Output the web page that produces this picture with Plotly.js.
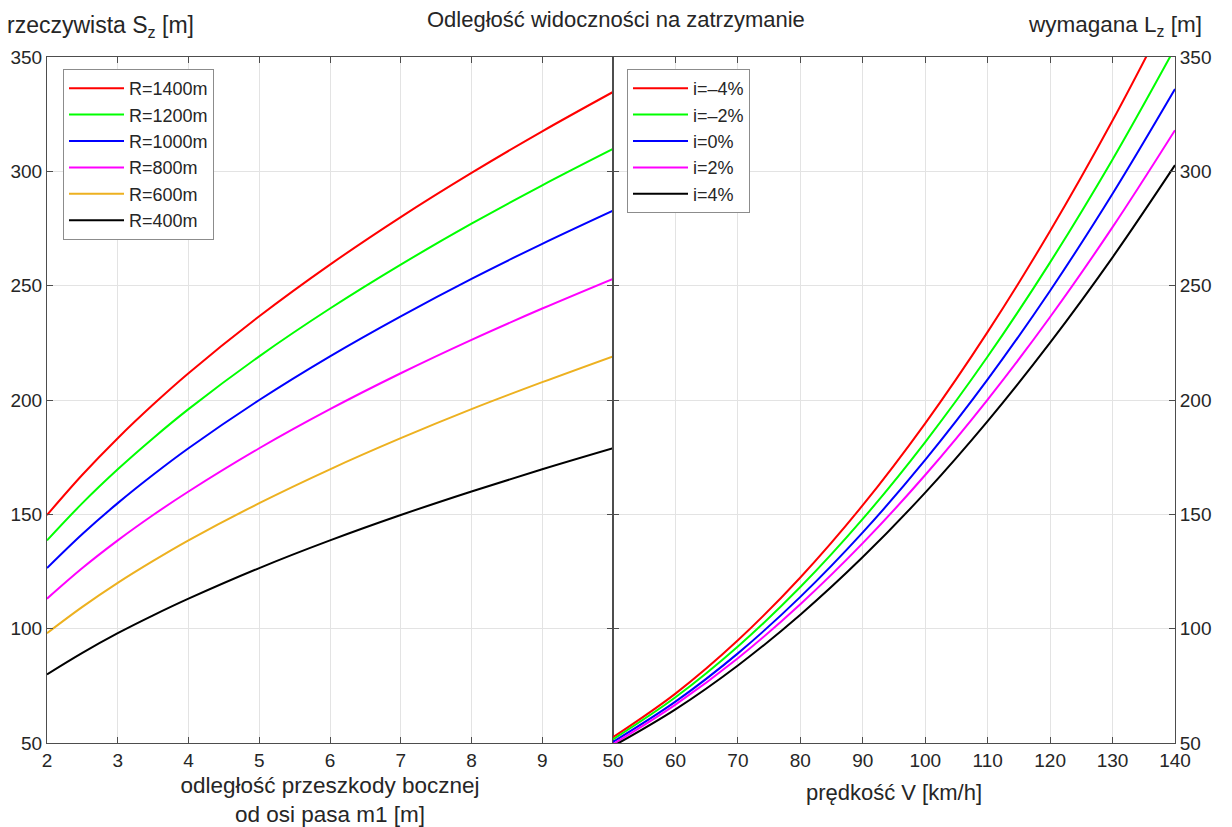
<!DOCTYPE html>
<html>
<head>
<meta charset="utf-8">
<script src="https://cdn.plot.ly/plotly-3.0.1.min.js"></script>
<style>html,body{margin:0;padding:0;background:#fff;}#chart{width:1232px;height:827px;}</style>
</head>
<body>
<div id="chart"></div>
<script>
// Left panel: lateral obstacle distance m1 [m]
const m1 = [2, 2.5, 3, 3.5, 4, 5, 6, 7, 8, 9, 10];
const R1400 = [149.7, 167.3, 183.3, 198.0, 211.7, 236.6, 259.2, 280.0, 299.3, 317.5, 334.7];
const R1200 = [138.6, 154.9, 169.7, 183.3, 196.0, 219.1, 240.0, 259.2, 277.1, 293.9, 309.8];
const R1000 = [126.5, 141.4, 154.9, 167.3, 178.9, 200.0, 219.1, 236.6, 253.0, 268.3, 282.8];
const R800  = [113.1, 126.5, 138.6, 149.7, 160.0, 178.9, 196.0, 211.7, 226.3, 240.0, 253.0];
const R600  = [98.0, 109.5, 120.0, 129.6, 138.6, 154.9, 169.7, 183.3, 196.0, 207.8, 219.1];
const R400  = [80.0, 89.4, 98.0, 105.8, 113.1, 126.5, 138.6, 149.7, 160.0, 169.7, 178.9];
const leftNames = ['R=1400m', 'R=1200m', 'R=1000m', 'R=800m', 'R=600m', 'R=400m'];

// Right panel: speed V [km/h]
const V = [50, 60, 70, 80, 90, 100, 110, 120, 130, 140];
const iM4 = [52.5, 71.6, 94.9, 122.4, 154.0, 189.8, 229.8, 273.9, 322.2, 374.6];
const iM2 = [51.6, 70.0, 92.2, 118.2, 148.0, 181.6, 219.0, 260.2, 305.2, 354.0];
const i0  = [50.5, 68.1, 89.2, 113.9, 142.1, 173.8, 209.0, 247.8, 290.2, 336.0];
const iP2 = [49.5, 66.8, 87.1, 110.7, 137.4, 167.2, 200.2, 236.3, 275.6, 318.0];
const iP4 = [48.6, 64.7, 83.9, 106.1, 131.3, 159.5, 190.8, 225.1, 262.4, 302.7];
const rightNames = ['i=\u20134%', 'i=\u20132%', 'i=0%', 'i=2%', 'i=4%'];

const leftTicks = [2, 3, 4, 5, 6, 7, 8, 9];
const rightTicks = [50, 60, 70, 80, 90, 100, 110, 120, 130, 140];
const yTicks = [50, 100, 150, 200, 250, 300, 350];

const leftColors = ['#ff0000', '#00ff00', '#0000ff', '#ff00ff', '#edb120', '#000000'];
const rightColors = ['#ff0000', '#00ff00', '#0000ff', '#ff00ff', '#000000'];
const FONT = 'Liberation Sans, Arial, sans-serif';

const leftSeries = [R1400, R1200, R1000, R800, R600, R400];
const rightSeries = [iM4, iM2, i0, iP2, iP4];

const traces = [];
leftSeries.forEach((ys, k) => traces.push({
  x: m1, y: ys, type: 'scatter', mode: 'lines', name: leftNames[k],
  line: {color: leftColors[k], width: 2, shape: 'spline'},
  xaxis: 'x', yaxis: 'y', legend: 'legend'
}));
rightSeries.forEach((ys, k) => traces.push({
  x: V, y: ys, type: 'scatter', mode: 'lines', name: rightNames[k],
  line: {color: rightColors[k], width: 2, shape: 'spline'},
  xaxis: 'x2', yaxis: 'y2', legend: 'legend2'
}));

const axisCommon = {
  showline: true, linecolor: '#4d4d4d', linewidth: 1, mirror: 'ticks',
  ticks: 'inside', ticklen: 6, tickcolor: '#4d4d4d',
  showgrid: true, gridcolor: '#e3e3e3', gridwidth: 1, zeroline: false,
  tickfont: {family: FONT, size: 19, color: '#262626'}
};
const split = (613 - 47) / 1128;

const layout = {
  width: 1232, height: 827,
  margin: {l: 47, r: 57, t: 57, b: 84},
  paper_bgcolor: '#ffffff', plot_bgcolor: '#ffffff',
  font: {family: FONT, color: '#262626'},
  showlegend: true,
  xaxis: Object.assign({}, axisCommon, {
    domain: [0, split], range: [2, 10], tickvals: leftTicks, ticktext: leftTicks.map(String),
    anchor: 'y',
    title: {text: 'odległość przeszkody bocznej<br>od osi pasa m1 [m]', font: {family: FONT, size: 22.5, color: '#262626'}, standoff: 14}
  }),
  yaxis: Object.assign({}, axisCommon, {
    domain: [0, 1], range: [50, 350], tickvals: yTicks, anchor: 'x', side: 'left'
  }),
  xaxis2: Object.assign({}, axisCommon, {
    domain: [split, 1], range: [50, 140], tickvals: rightTicks, anchor: 'y2',
    title: {text: 'prędkość V [km/h]', font: {family: FONT, size: 22, color: '#262626'}, standoff: 14}
  }),
  yaxis2: Object.assign({}, axisCommon, {
    domain: [0, 1], range: [50, 350], tickvals: yTicks, anchor: 'x2', side: 'right'
  }),
  legend: {
    x: (63 - 47) / 1128, y: 1 - (69 - 57) / 686, xanchor: 'left', yanchor: 'top',
    bgcolor: '#ffffff', bordercolor: '#8c8c8c', borderwidth: 1,
    font: {family: FONT, size: 18, color: '#262626'}, itemwidth: 55
  },
  legend2: {
    x: (627 - 47) / 1128, y: 1 - (69 - 57) / 686, xanchor: 'left', yanchor: 'top',
    bgcolor: '#ffffff', bordercolor: '#8c8c8c', borderwidth: 1,
    font: {family: FONT, size: 18, color: '#262626'}, itemwidth: 55
  },
  annotations: [
    {text: 'Odległość widoczności na zatrzymanie', xref: 'paper', yref: 'paper',
     x: (616 - 47) / 1128, y: 1 + (57 - 20) / 686, xanchor: 'center', yanchor: 'middle',
     showarrow: false, font: {family: FONT, size: 22, color: '#262626'}},
    {text: 'rzeczywista S<sub>z</sub> [m]', xref: 'paper', yref: 'paper',
     x: (5 - 47) / 1128, y: 1 + (57 - 26) / 686, xanchor: 'left', yanchor: 'middle',
     showarrow: false, font: {family: FONT, size: 23, color: '#262626'}},
    {text: 'wymagana L<sub>z</sub> [m]', xref: 'paper', yref: 'paper',
     x: (1204 - 47) / 1128, y: 1 + (57 - 26) / 686, xanchor: 'right', yanchor: 'middle',
     showarrow: false, font: {family: FONT, size: 22.5, color: '#262626'}}
  ]
};

Plotly.newPlot('chart', traces, layout, {displayModeBar: false, staticPlot: true});
</script>
</body>
</html>
